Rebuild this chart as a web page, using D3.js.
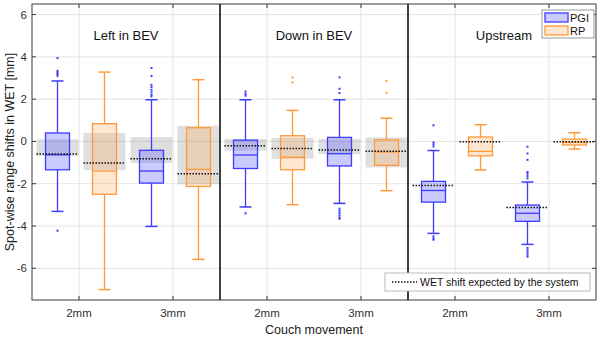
<!DOCTYPE html>
<html>
<head>
<meta charset="utf-8">
<script src="https://cdn.jsdelivr.net/npm/d3@7"></script>
<style>
  html, body { margin: 0; padding: 0; background: #fff; }
  svg { display: block; font-family: Arial, "Liberation Sans", sans-serif; }
</style>
</head>
<body>
<svg id="chart" width="600" height="340"></svg>
<script>
// ---------------- data ----------------
const panels = ["Left in BEV", "Down in BEV", "Upstream"];
const categories = ["2mm", "3mm"];
const systems = ["PGI", "RP"];
const yTicks = [-6, -4, -2, 0, 2, 4, 6];

// order: Left 2mm, Left 3mm, Down 2mm, Down 3mm, Upstream 2mm, Upstream 3mm
const pgiHigh   = [2.86, 1.97, 1.97, 1.97, -0.43, -1.92];
const pgiQ3     = [0.40, -0.42, 0.06, 0.19, -1.89, -3.01];
const pgiMedian = [-0.63, -1.40, -0.64, -0.58, -2.32, -3.40];
const pgiQ1     = [-1.34, -1.97, -1.28, -1.16, -2.87, -3.78];
const pgiLow    = [-3.31, -4.02, -3.10, -2.93, -4.35, -4.87];
const pgiOutliers = [
  [3.94, 3.34, 3.26, 3.19, 3.10, -4.22],
  [3.47, 3.10, 2.68, 2.57, 2.44, 2.32, 2.21, 2.13],
  [2.36, 2.25, 2.16, -3.40],
  [3.03, 2.49, 2.29, -3.18, -3.28, -3.39, -3.50, -3.60, -3.66],
  [0.76, -0.05, -0.14, -0.24, -4.49, -4.59, -4.65],
  [-0.25, -0.57, -0.87, -1.45, -1.53, -1.64, -1.75, -5.04, -5.15, -5.25, -5.35, -5.45]
];
const pgiExpected = [-0.60, -0.82, -0.20, -0.41, -2.09, -3.13];
const pgiBandLo   = [-0.68, -1.02, -0.44, -0.60, null, null];
const pgiBandHi   = [0.10, 0.20, 0.11, 0.12, null, null];

const rpHigh   = [3.28, 2.92, 1.47, 1.10, 0.79, 0.41];
const rpQ3     = [0.84, 0.65, 0.27, 0.08, 0.21, 0.11];
const rpMedian = [-1.40, -1.32, -0.75, -0.50, -0.47, -0.05];
const rpQ1     = [-2.50, -2.13, -1.34, -1.13, -0.68, -0.17];
const rpLow    = [-7.01, -5.58, -2.99, -2.33, -1.35, -0.36];
const rpOutliers = [[], [], [3.03, 2.79], [2.86, 2.30], [], []];
const rpExpected = [-1.02, -1.53, -0.33, -0.47, -0.01, -0.01];
const rpBandLo   = [-1.36, -2.02, -0.82, -1.23, null, null];
const rpBandHi   = [0.40, 0.74, 0.17, 0.19, null, null];

// ---------------- build records ----------------
const series = {
  PGI: {high: pgiHigh, q3: pgiQ3, med: pgiMedian, q1: pgiQ1, low: pgiLow, out: pgiOutliers,
        exp: pgiExpected, bLo: pgiBandLo, bHi: pgiBandHi,
        stroke: "#3c3cff", fill: "rgba(70,70,255,0.28)"},
  RP:  {high: rpHigh, q3: rpQ3, med: rpMedian, q1: rpQ1, low: rpLow, out: rpOutliers,
        exp: rpExpected, bLo: rpBandLo, bHi: rpBandHi,
        stroke: "#ff9a3a", fill: "rgba(255,160,70,0.25)"}
};
const records = [];
panels.forEach((p, pi) => categories.forEach((c, ci) => systems.forEach(s => {
  const k = pi * categories.length + ci, d = series[s];
  records.push({panel: p, cat: c, sys: s, high: d.high[k], q3: d.q3[k], med: d.med[k],
    q1: d.q1[k], low: d.low[k], out: d.out[k], exp: d.exp[k], bLo: d.bLo[k], bHi: d.bHi[k],
    stroke: d.stroke, fill: d.fill});
})));

// ---------------- layout ----------------
const svg = d3.select("#chart");
const L = 32, R = 596, T = 4, B = 300;
const y = d3.scaleLinear().domain([-7.5, 6.5]).range([B, T]);
const xPanel = d3.scaleBand().domain(panels).range([L, R]);
const xCat = d3.scalePoint().domain(categories).range([0, xPanel.bandwidth()]).padding(0.5);
const xSys = d3.scalePoint().domain(systems).range([-21.5, 25.5]);
const boxW = 24, bandW = 42, capW = 12;
const cx = d => xPanel(d.panel) + xCat(d.cat) + xSys(d.sys);

// grid
const grid = svg.append("g");
yTicks.forEach(t => grid.append("line").attr("x1", L).attr("x2", R)
  .attr("y1", y(t)).attr("y2", y(t)).attr("stroke", "#e4e4e4").attr("stroke-width", 1));
panels.forEach(p => categories.forEach(c => {
  const xx = xPanel(p) + xCat(c);
  grid.append("line").attr("x1", xx).attr("x2", xx).attr("y1", T).attr("y2", B)
    .attr("stroke", "#e4e4e4").attr("stroke-width", 1);
}));

// expected bands
svg.append("g").selectAll("rect").data(records.filter(d => d.bLo !== null)).join("rect")
  .attr("x", d => cx(d) - bandW / 2).attr("width", bandW)
  .attr("y", d => y(d.bHi)).attr("height", d => y(d.bLo) - y(d.bHi))
  .attr("fill", "rgba(150,150,150,0.3)");

// whiskers
const g = svg.append("g");
records.forEach(d => {
  const x0 = cx(d);
  g.append("line").attr("x1", x0).attr("x2", x0).attr("y1", y(d.q3)).attr("y2", y(d.high))
    .attr("stroke", d.stroke).attr("stroke-width", 1.3);
  g.append("line").attr("x1", x0).attr("x2", x0).attr("y1", y(d.q1)).attr("y2", y(d.low))
    .attr("stroke", d.stroke).attr("stroke-width", 1.3);
  [d.high, d.low].forEach(v => g.append("line").attr("x1", x0 - capW / 2).attr("x2", x0 + capW / 2)
    .attr("y1", y(v)).attr("y2", y(v)).attr("stroke", d.stroke).attr("stroke-width", 1.5));
  g.append("rect").attr("x", x0 - boxW / 2).attr("width", boxW)
    .attr("y", y(d.q3)).attr("height", y(d.q1) - y(d.q3))
    .attr("fill", d.fill).attr("stroke", d.stroke).attr("stroke-width", 1.3);
  g.append("line").attr("x1", x0 - boxW / 2).attr("x2", x0 + boxW / 2)
    .attr("y1", y(d.med)).attr("y2", y(d.med)).attr("stroke", d.stroke).attr("stroke-width", 1.3);
  d.out.forEach(v => g.append("rect").attr("x", x0 - 1).attr("y", y(v) - 1)
    .attr("width", 2).attr("height", 2).attr("fill", d.stroke));
  g.append("line").attr("x1", x0 - bandW / 2).attr("x2", x0 + bandW / 2)
    .attr("y1", y(d.exp)).attr("y2", y(d.exp)).attr("stroke", "#111")
    .attr("stroke-width", 1.5).attr("stroke-dasharray", "1.5,1.5");
});

// frame and dividers
svg.append("rect").attr("x", L).attr("y", T).attr("width", R - L).attr("height", B - T)
  .attr("fill", "none").attr("stroke", "#3a3a3a").attr("stroke-width", 1);
panels.slice(1).forEach(p => svg.append("line").attr("x1", xPanel(p)).attr("x2", xPanel(p))
  .attr("y1", T).attr("y2", B).attr("stroke", "#111").attr("stroke-width", 1.6));

// ticks
const tk = svg.append("g").attr("stroke", "#3a3a3a").attr("stroke-width", 1);
yTicks.forEach(t => {
  tk.append("line").attr("x1", L).attr("x2", L + 4).attr("y1", y(t)).attr("y2", y(t));
  tk.append("line").attr("x1", R - 4).attr("x2", R).attr("y1", y(t)).attr("y2", y(t));
});
panels.forEach(p => categories.forEach(c => {
  const xx = xPanel(p) + xCat(c);
  tk.append("line").attr("x1", xx).attr("x2", xx).attr("y1", B).attr("y2", B - 4);
  tk.append("line").attr("x1", xx).attr("x2", xx).attr("y1", T).attr("y2", T + 4);
}));

// tick labels
svg.append("g").selectAll("text").data(yTicks).join("text")
  .attr("x", L - 5).attr("y", d => y(d) + 4).attr("text-anchor", "end")
  .attr("font-size", 11.5).attr("fill", "#333").text(d => d);
panels.forEach(p => categories.forEach(c => {
  svg.append("text").attr("x", xPanel(p) + xCat(c)).attr("y", 317)
    .attr("text-anchor", "middle").attr("font-size", 11.5).attr("fill", "#333").text(c);
}));

// axis titles
svg.append("text").attr("x", (L + R) / 2).attr("y", 334).attr("text-anchor", "middle")
  .attr("font-size", 12.5).attr("fill", "#222").text("Couch movement");
svg.append("text").attr("transform", `translate(14,${(T + B) / 2}) rotate(-90)`)
  .attr("text-anchor", "middle").attr("font-size", 12.5).attr("fill", "#222")
  .text("Spot-wise range shifts in WET [mm]");

// panel titles
svg.append("g").selectAll("text").data(panels).join("text")
  .attr("x", p => xPanel(p) + xPanel.bandwidth() / 2 + (p === "Upstream" ? 2 : 0))
  .attr("y", 40).attr("text-anchor", "middle").attr("font-size", 13).attr("fill", "#111")
  .text(p => p);

// legend (systems)
const lg = svg.append("g");
lg.append("rect").attr("x", 542).attr("y", 10).attr("width", 52).attr("height", 28)
  .attr("fill", "#fff").attr("stroke", "#999").attr("stroke-width", 1);
systems.forEach((s, i) => {
  lg.append("rect").attr("x", 545).attr("y", 13 + i * 13).attr("width", 23).attr("height", 9)
    .attr("fill", series[s].fill).attr("stroke", series[s].stroke).attr("stroke-width", 1.3);
  lg.append("text").attr("x", 570).attr("y", 21.5 + i * 13).attr("font-size", 11)
    .attr("fill", "#111").text(s);
});

// legend (expected)
const lg2 = svg.append("g");
lg2.append("rect").attr("x", 385).attr("y", 273).attr("width", 205).attr("height", 18)
  .attr("fill", "#fff").attr("stroke", "#bbb").attr("stroke-width", 1);
lg2.append("line").attr("x1", 392).attr("x2", 417).attr("y1", 282).attr("y2", 282)
  .attr("stroke", "#111").attr("stroke-width", 1.5).attr("stroke-dasharray", "1.5,1.5");
lg2.append("text").attr("x", 420).attr("y", 286).attr("font-size", 10.5).attr("fill", "#111")
  .text("WET shift expected by the system");
</script>
</body>
</html>
